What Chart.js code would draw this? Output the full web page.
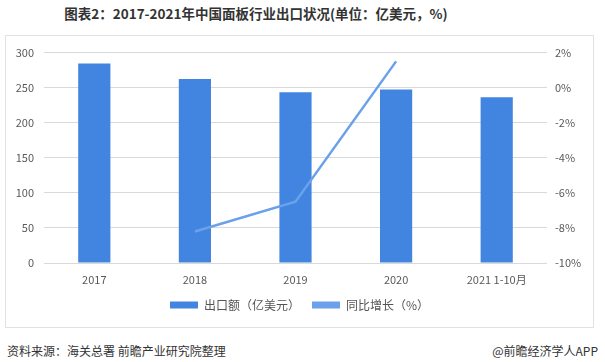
<!DOCTYPE html>
<html>
<head>
<meta charset="utf-8">
<script src="https://cdn.jsdelivr.net/npm/chart.js@4"></script>
<style>
  body { margin: 0; width: 605px; height: 362px; background: #fff; position: relative; font-family: "Noto Sans CJK SC", "Noto Sans", sans-serif; overflow: hidden; }
  #title { position: absolute; top: 3px; left: 0; width: 512px; text-align: center; font-size: 13.5px; font-weight: bold; color: #333; }
  #frame { position: absolute; left: 5px; top: 35px; width: 587px; height: 291px; border: 1px solid #e2e2e2; }
  #frame canvas { display: block; }
  #source { position: absolute; left: 7px; top: 342px; font-size: 12px; color: #333; }
  #brand { position: absolute; right: 7px; top: 342px; font-size: 12px; color: #333; }
</style>
</head>
<body>
<div id="title">图表2：2017-2021年中国面板行业出口状况(单位：亿美元，%)</div>
<div id="frame"><canvas id="chart" width="587" height="291"></canvas></div>
<div id="source">资料来源：海关总署 前瞻产业研究院整理</div>
<div id="brand">@前瞻经济学人APP</div>
<script>
const categories = ['2017', '2018', '2019', '2020', '2021 1-10月'];
const exportValues = [284.5, 262.5, 243.5, 247.5, 236.5];
const yoyGrowth = [null, -8.2, -6.5, 1.5, null];
const leftTicks = [0, 50, 100, 150, 200, 250, 300];
const rightTicks = [-10, -8, -6, -4, -2, 0, 2];

document.addEventListener('DOMContentLoaded', function () {
    const ctx = document.getElementById('chart').getContext('2d');
    const tickFont = { family: '"Noto Sans CJK SC", "Noto Sans", sans-serif', size: 11 };
    new Chart(ctx, {
        data: {
            labels: categories,
            datasets: [{
                type: 'line',
                label: '同比增长（%）',
                data: yoyGrowth,
                yAxisID: 'y1',
                borderColor: '#6aa1ea',
                backgroundColor: '#6aa1ea',
                borderWidth: 2.5,
                pointRadius: 0,
                tension: 0,
                order: 0
            }, {
                type: 'bar',
                label: '出口额（亿美元）',
                data: exportValues,
                yAxisID: 'y',
                backgroundColor: '#4285e0',
                borderColor: '#4285e0',
                categoryPercentage: 1,
                barPercentage: 0.32,
                order: 1
            }]
        },
        options: {
            responsive: false,
            animation: false,
            layout: { padding: { top: 8, bottom: 6, left: 0, right: 0 } },
            plugins: {
                legend: {
                    position: 'bottom',
                    reverse: true,
                    labels: {
                        boxWidth: 28,
                        boxHeight: 7,
                        padding: 12,
                        color: '#555',
                        font: { family: '"Noto Sans CJK SC", sans-serif', size: 12 },
                        generateLabels: function (chart) {
                            const items = Chart.defaults.plugins.legend.labels.generateLabels(chart);
                            items.forEach(function (it) {
                                if (it.text.indexOf('同比') === 0) {
                                    it.fillStyle = '#6aa1ea';
                                }
                                it.lineWidth = 0;
                            });
                            return items;
                        }
                    }
                },
                tooltip: { enabled: false }
            },
            scales: {
                x: {
                    grid: { display: false, drawTicks: false },
                    border: { display: false },
                    ticks: { color: '#595959', font: tickFont, padding: 10 },
                    afterFit: function (s) { s.height = 24; }
                },
                y: {
                    position: 'left',
                    min: 0, max: 300,
                    afterBuildTicks: function (s) { s.ticks = leftTicks.map(function (v) { return { value: v }; }); },
                    grid: { color: '#d9d9d9', drawTicks: false },
                    border: { display: false },
                    ticks: { color: '#595959', font: tickFont, padding: 10 },
                    afterFit: function (s) { s.width = 38; }
                },
                y1: {
                    position: 'right',
                    min: -10, max: 2,
                    afterBuildTicks: function (s) { s.ticks = rightTicks.map(function (v) { return { value: v }; }); },
                    grid: { display: false, drawTicks: false },
                    border: { display: false },
                    ticks: { color: '#595959', font: tickFont, padding: 8, callback: function (v) { return v + '%'; } },
                    afterFit: function (s) { s.width = 46; }
                }
            }
        }
    });
});
</script>
</body>
</html>
